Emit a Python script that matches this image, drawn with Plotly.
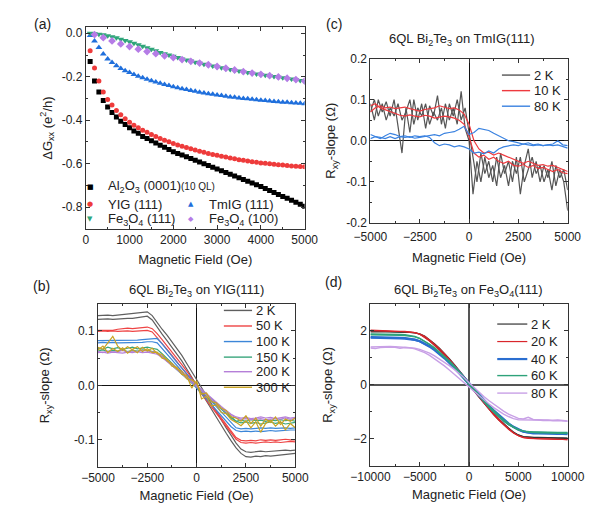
import plotly.graph_objects as go

W, H = 611, 510
def px(x): return x / W
def py(y): return 1 - y / H

FONT = "Liberation Sans, Arial, sans-serif"

# ---------------- Panel (a) data ----------------
field_a = list(range(100, 5001, 100))
field_a_fe100 = list(range(200, 5001, 200))
al2o3 = [-0.13, -0.22, -0.27, -0.31, -0.34, -0.365, -0.385, -0.405, -0.42, -0.435,
         -0.45, -0.46, -0.475, -0.485, -0.495, -0.505, -0.515, -0.525, -0.535, -0.545,
         -0.553, -0.561, -0.569, -0.577, -0.585, -0.593, -0.601, -0.609, -0.617, -0.625,
         -0.633, -0.641, -0.649, -0.657, -0.665, -0.673, -0.681, -0.689, -0.697, -0.705,
         -0.715, -0.724, -0.733, -0.742, -0.751, -0.760, -0.769, -0.778, -0.787, -0.796]
yig = [-0.08, -0.16, -0.22, -0.27, -0.305, -0.33, -0.355, -0.375, -0.393, -0.41,
       -0.423, -0.435, -0.446, -0.456, -0.466, -0.475, -0.484, -0.492, -0.50, -0.507,
       -0.514, -0.52, -0.526, -0.532, -0.538, -0.543, -0.548, -0.553, -0.558, -0.562,
       -0.566, -0.570, -0.574, -0.578, -0.582, -0.585, -0.588, -0.591, -0.594, -0.597,
       -0.599, -0.601, -0.603, -0.605, -0.607, -0.609, -0.611, -0.612, -0.613, -0.614]
tmig = [-0.01, -0.035, -0.065, -0.095, -0.118, -0.135, -0.15, -0.162, -0.172, -0.181,
        -0.19, -0.198, -0.205, -0.212, -0.218, -0.224, -0.23, -0.236, -0.241, -0.246,
        -0.251, -0.255, -0.259, -0.263, -0.267, -0.271, -0.275, -0.278, -0.281, -0.284,
        -0.287, -0.29, -0.293, -0.295, -0.298, -0.30, -0.302, -0.304, -0.306, -0.308,
        -0.31, -0.312, -0.314, -0.315, -0.317, -0.318, -0.32, -0.321, -0.322, -0.324]
fe3o4_111 = [0.0, -0.002, -0.004, -0.007, -0.011, -0.016, -0.021, -0.027, -0.033, -0.039,
             -0.046, -0.053, -0.06, -0.067, -0.074, -0.081, -0.088, -0.094, -0.1, -0.106,
             -0.112, -0.118, -0.123, -0.128, -0.133, -0.138, -0.143, -0.147, -0.151, -0.155,
             -0.159, -0.163, -0.167, -0.171, -0.174, -0.178, -0.181, -0.184, -0.187, -0.19,
             -0.193, -0.196, -0.199, -0.202, -0.205, -0.208, -0.211, -0.214, -0.217, -0.222]
fe3o4_100 = [-0.006, -0.02, -0.035, -0.049, -0.061, -0.073, -0.084, -0.094, -0.104, -0.112,
             -0.121, -0.129, -0.137, -0.145, -0.153, -0.161, -0.169, -0.177, -0.183, -0.189,
             -0.195, -0.201, -0.207, -0.213, -0.22]

# ---------------- Panel (b) data ----------------
field_b = list(range(-5000, 5001, 250))
temps_b = ["2 K", "50 K", "100 K", "150 K", "200 K", "300 K"]
b_2K_a = [0.128, 0.129, 0.129, 0.128, 0.129, 0.13, 0.13, 0.131, 0.132, 0.134, 0.135, 0.128, 0.115, 0.103,
          0.092, 0.08, 0.068, 0.055, 0.04, 0.025, 0.01, -0.005, -0.02, -0.035, -0.05, -0.064, -0.078,
          -0.092, -0.106, -0.117, -0.122, -0.123, -0.122, -0.121, -0.122, -0.121, -0.12, -0.12, -0.119, -0.12, -0.119]
b_2K_b = [0.121, 0.122, 0.122, 0.121, 0.122, 0.122, 0.123, 0.123, 0.124, 0.126, 0.127, 0.12, 0.106, 0.094,
          0.082, 0.07, 0.058, 0.045, 0.03, 0.015, 0.0, -0.015, -0.03, -0.045, -0.06, -0.074, -0.088,
          -0.102, -0.115, -0.125, -0.131, -0.132, -0.13, -0.131, -0.129, -0.13, -0.129, -0.128, -0.128, -0.127, -0.125]
b_50K_a = [0.101, 0.101, 0.102, 0.101, 0.103, 0.104, 0.105, 0.104, 0.105, 0.106, 0.107, 0.104, 0.095, 0.084,
           0.073, 0.062, 0.05, 0.038, 0.026, 0.013, 0.0, -0.012, -0.024, -0.036, -0.048, -0.06, -0.072,
           -0.085, -0.096, -0.101, -0.102, -0.101, -0.102, -0.1, -0.101, -0.1, -0.101, -0.1, -0.099, -0.1, -0.1]
b_50K_b = [0.099, 0.1, 0.099, 0.1, 0.099, 0.1, 0.1, 0.099, 0.1, 0.1, 0.101, 0.098, 0.088, 0.077,
           0.066, 0.055, 0.044, 0.032, 0.02, 0.008, -0.004, -0.016, -0.028, -0.04, -0.052, -0.064, -0.076,
           -0.088, -0.099, -0.105, -0.106, -0.105, -0.106, -0.105, -0.104, -0.105, -0.104, -0.105, -0.104, -0.103, -0.104]
b_100K_a = [0.082, 0.082, 0.083, 0.082, 0.082, 0.083, 0.082, 0.083, 0.083, 0.084, 0.085, 0.086, 0.086, 0.076,
            0.064, 0.053, 0.042, 0.032, 0.021, 0.011, 0.0, -0.01, -0.02, -0.03, -0.04, -0.05, -0.06,
            -0.07, -0.078, -0.08, -0.079, -0.08, -0.079, -0.078, -0.079, -0.078, -0.079, -0.078, -0.078, -0.079, -0.078]
b_100K_b = [0.078, 0.079, 0.078, 0.079, 0.078, 0.078, 0.079, 0.078, 0.079, 0.079, 0.08, 0.08, 0.078, 0.068,
            0.057, 0.046, 0.036, 0.026, 0.015, 0.005, -0.005, -0.015, -0.025, -0.035, -0.045, -0.055, -0.066,
            -0.076, -0.083, -0.085, -0.084, -0.085, -0.084, -0.085, -0.084, -0.083, -0.084, -0.083, -0.083, -0.082, -0.082]
b_150K_a = [0.068, 0.066, 0.07, 0.067, 0.069, 0.066, 0.068, 0.07, 0.067, 0.069, 0.07, 0.068, 0.066, 0.058,
            0.049, 0.04, 0.032, 0.024, 0.016, 0.008, 0.0, -0.008, -0.016, -0.025, -0.033, -0.042, -0.05,
            -0.059, -0.066, -0.069, -0.067, -0.07, -0.068, -0.071, -0.069, -0.067, -0.07, -0.068, -0.071, -0.069, -0.068]
b_150K_b = [0.063, 0.065, 0.062, 0.064, 0.063, 0.065, 0.062, 0.064, 0.063, 0.065, 0.064, 0.062, 0.06, 0.053,
            0.045, 0.037, 0.029, 0.021, 0.013, 0.005, -0.003, -0.011, -0.019, -0.027, -0.035, -0.044, -0.052,
            -0.06, -0.066, -0.064, -0.066, -0.063, -0.065, -0.064, -0.066, -0.064, -0.065, -0.063, -0.065, -0.064, -0.066]
b_200K_a = [0.062, 0.06, 0.063, 0.061, 0.062, 0.064, 0.061, 0.063, 0.062, 0.064, 0.063, 0.061, 0.06, 0.054,
            0.047, 0.04, 0.032, 0.024, 0.016, 0.008, 0.0, -0.008, -0.016, -0.024, -0.031, -0.039, -0.046,
            -0.053, -0.058, -0.06, -0.059, -0.061, -0.06, -0.058, -0.06, -0.059, -0.061, -0.06, -0.058, -0.06, -0.059]
b_200K_b = [0.06, 0.061, 0.059, 0.061, 0.06, 0.059, 0.061, 0.06, 0.062, 0.06, 0.061, 0.059, 0.057, 0.051,
            0.044, 0.037, 0.029, 0.021, 0.013, 0.005, -0.003, -0.011, -0.019, -0.027, -0.034, -0.042, -0.049,
            -0.055, -0.06, -0.062, -0.061, -0.063, -0.062, -0.061, -0.063, -0.062, -0.061, -0.062, -0.06, -0.062, -0.061]
b_300K_a = [0.07, 0.066, 0.078, 0.09, 0.072, 0.064, 0.071, 0.066, 0.06, 0.07, 0.063, 0.068, 0.058, 0.057,
            0.045, 0.04, 0.03, 0.026, 0.012, 0.01, 0.004, -0.016, -0.014, -0.03, -0.032, -0.042, -0.046,
            -0.058, -0.06, -0.066, -0.056, -0.07, -0.06, -0.075, -0.062, -0.068, -0.058, -0.072, -0.062, -0.066, -0.06]
b_300K_b = [0.065, 0.072, 0.06, 0.068, 0.062, 0.069, 0.059, 0.066, 0.071, 0.062, 0.067, 0.06, 0.061, 0.05,
            0.048, 0.035, 0.033, 0.02, 0.018, -0.005, 0.008, -0.025, -0.02, -0.038, -0.036, -0.05, -0.052,
            -0.063, -0.068, -0.074, -0.065, -0.078, -0.067, -0.086, -0.07, -0.064, -0.075, -0.066, -0.082, -0.07, -0.078]
series_b = [(b_2K_a, b_2K_b), (b_50K_a, b_50K_b), (b_100K_a, b_100K_b),
            (b_150K_a, b_150K_b), (b_200K_a, b_200K_b), (b_300K_a, b_300K_b)]
colors_b = ["#5f5f5f", "#ee4444", "#3c86d8", "#3aa67c", "#b57fd8", "#c9a323"]

# ---------------- Panel (c) data ----------------
field_c_2K = list(range(-5000, 5001, 200))
field_c = list(range(-5000, 5001, 250))
temps_c = ["2 K", "10 K", "80 K"]
c_2K_a = [0.09, 0.05, 0.1, 0.07, 0.095, 0.06, 0.1, 0.04, -0.03, 0.08, 0.02, 0.1, 0.05, 0.09, 0.03, 0.085,
          0.06, 0.11, 0.04, 0.09, 0.05, 0.08, 0.04, 0.12, 0.03, 0.0, -0.13, -0.05, -0.1, -0.04, -0.09, -0.06,
          -0.11, -0.03, -0.08, -0.05, -0.1, -0.04, -0.13, -0.06, -0.02, -0.09, -0.05, -0.1, -0.06, -0.09,
          -0.05, -0.11, -0.07, -0.1, -0.17]
c_2K_b = [0.07, 0.1, 0.06, 0.09, 0.05, 0.08, 0.06, 0.09, 0.05, 0.07, 0.1, 0.04, 0.08, 0.06, 0.09, 0.04,
          0.07, 0.05, 0.08, 0.03, 0.09, 0.06, 0.1, 0.05, 0.08, 0.02, -0.04, -0.1, -0.03, -0.08, -0.05, -0.1,
          -0.04, -0.09, -0.06, -0.11, -0.05, -0.08, -0.04, -0.1, -0.07, -0.04, -0.08, -0.06, -0.1, -0.07,
          -0.12, -0.06, -0.09, -0.07, -0.12]
c_10K_a = [0.085, 0.09, 0.08, 0.075, 0.07, 0.066, 0.062, 0.06, 0.063, 0.06, 0.058, 0.062, 0.06, 0.055,
           0.058, 0.06, 0.058, 0.055, 0.05, 0.04, 0.01, -0.03, -0.04, -0.035, -0.045, -0.04, -0.05, -0.055,
           -0.05, -0.06, -0.062, -0.058, -0.065, -0.06, -0.068, -0.065, -0.07, -0.075, -0.07, -0.078, -0.08]
c_10K_b = [0.07, 0.08, 0.085, 0.08, 0.082, 0.078, 0.08, 0.082, 0.078, 0.075, 0.072, 0.076, 0.078, 0.08,
           0.085, 0.082, 0.078, 0.08, 0.075, 0.065, 0.04, 0.0, -0.02, -0.03, -0.028, -0.035, -0.03, -0.035,
           -0.04, -0.045, -0.05, -0.055, -0.05, -0.055, -0.06, -0.058, -0.062, -0.06, -0.065, -0.07, -0.075]
c_80K_a = [0.015, 0.01, 0.005, 0.012, 0.018, 0.015, 0.01, 0.012, 0.008, 0.012, 0.01, 0.012, 0.008, -0.005,
           -0.012, -0.008, -0.01, -0.015, -0.012, -0.015, -0.02, -0.03, -0.028, -0.032, -0.025, -0.03, -0.02,
           -0.015, -0.012, -0.01, -0.012, -0.008, -0.01, -0.012, -0.01, -0.012, -0.01, -0.008, 0.0, -0.01, -0.012]
c_80K_b = [0.005, 0.01, 0.008, 0.005, 0.01, 0.005, 0.01, 0.008, 0.01, 0.006, 0.008, 0.01, 0.012, 0.015,
           0.012, 0.018, 0.02, 0.022, 0.028, 0.035, 0.015, 0.02, 0.03, 0.028, 0.025, 0.018, 0.012, 0.005,
           0.0, -0.002, -0.005, -0.008, -0.005, -0.01, -0.008, -0.012, -0.01, -0.012, -0.01, -0.015, -0.018]
colors_c = ["#555555", "#ee3a3f", "#3a82e0"]

# ---------------- Panel (d) data ----------------
field_d = list(range(-10000, 10001, 500))
temps_d = ["2 K", "20 K", "40 K", "60 K", "80 K"]
d_2K_a = [1.98, 1.99, 1.98, 1.98, 1.97, 1.97, 1.97, 1.96, 1.95, 1.93, 1.87, 1.77, 1.63, 1.47, 1.30, 1.12,
          0.92, 0.70, 0.47, 0.24, 0.01, -0.22, -0.45, -0.68, -0.90, -1.10, -1.29, -1.46, -1.62, -1.76,
          -1.86, -1.92, -1.94, -1.95, -1.96, -1.96, -1.97, -1.97, -1.97, -1.98, -1.98]
d_2K_b = [1.96, 1.97, 1.96, 1.96, 1.96, 1.95, 1.95, 1.95, 1.94, 1.92, 1.88, 1.80, 1.67, 1.52, 1.35, 1.17,
          0.97, 0.76, 0.53, 0.30, 0.07, -0.16, -0.39, -0.62, -0.84, -1.05, -1.25, -1.43, -1.59, -1.74,
          -1.85, -1.91, -1.93, -1.94, -1.94, -1.95, -1.95, -1.96, -1.96, -1.96, -1.97]
d_20K_a = [2.02, 2.01, 2.0, 2.0, 1.99, 1.99, 1.98, 1.98, 1.96, 1.93, 1.87, 1.76, 1.62, 1.46, 1.29, 1.10,
           0.90, 0.69, 0.46, 0.23, 0.0, -0.23, -0.46, -0.69, -0.91, -1.11, -1.30, -1.48, -1.64, -1.78,
           -1.88, -1.94, -1.97, -1.98, -1.99, -1.99, -2.0, -2.0, -2.01, -2.01, -2.02]
d_20K_b = [2.0, 1.99, 1.99, 1.98, 1.98, 1.97, 1.97, 1.96, 1.95, 1.93, 1.88, 1.79, 1.66, 1.51, 1.34, 1.15,
           0.95, 0.74, 0.52, 0.29, 0.05, -0.18, -0.41, -0.64, -0.86, -1.07, -1.27, -1.45, -1.62, -1.77,
           -1.88, -1.95, -1.98, -1.99, -2.0, -2.0, -2.01, -2.01, -2.02, -2.02, -2.03]
d_40K_a = [1.76, 1.76, 1.76, 1.75, 1.75, 1.75, 1.74, 1.73, 1.71, 1.67, 1.61, 1.52, 1.41, 1.28, 1.14, 0.98,
           0.81, 0.63, 0.43, 0.22, 0.01, -0.20, -0.41, -0.61, -0.80, -0.98, -1.15, -1.31, -1.45, -1.57,
           -1.66, -1.73, -1.77, -1.79, -1.79, -1.80, -1.80, -1.80, -1.81, -1.81, -1.82]
d_40K_b = [1.74, 1.74, 1.73, 1.73, 1.73, 1.72, 1.72, 1.71, 1.69, 1.66, 1.61, 1.53, 1.43, 1.31, 1.17, 1.02,
           0.85, 0.67, 0.48, 0.27, 0.06, -0.15, -0.36, -0.56, -0.75, -0.94, -1.11, -1.27, -1.42, -1.55,
           -1.65, -1.72, -1.76, -1.77, -1.77, -1.78, -1.78, -1.78, -1.78, -1.79, -1.79]
d_60K_a = [1.88, 1.88, 1.87, 1.87, 1.87, 1.86, 1.86, 1.85, 1.83, 1.79, 1.72, 1.62, 1.49, 1.35, 1.19, 1.02,
           0.84, 0.65, 0.44, 0.22, 0.0, -0.22, -0.43, -0.63, -0.82, -1.0, -1.17, -1.33, -1.47, -1.58,
           -1.66, -1.71, -1.73, -1.74, -1.74, -1.75, -1.75, -1.75, -1.76, -1.76, -1.76]
d_60K_b = [1.85, 1.85, 1.84, 1.84, 1.84, 1.83, 1.83, 1.82, 1.80, 1.77, 1.71, 1.62, 1.50, 1.37, 1.22, 1.05,
           0.88, 0.69, 0.49, 0.27, 0.05, -0.17, -0.38, -0.58, -0.77, -0.96, -1.13, -1.29, -1.44, -1.56,
           -1.65, -1.71, -1.74, -1.76, -1.77, -1.77, -1.78, -1.78, -1.79, -1.79, -1.80]
d_80K_a = [1.36, 1.34, 1.38, 1.40, 1.40, 1.39, 1.35, 1.38, 1.37, 1.35, 1.31, 1.25, 1.17, 1.07, 0.96, 0.84,
           0.71, 0.57, 0.42, 0.26, 0.08, -0.10, -0.27, -0.43, -0.58, -0.72, -0.85, -0.97, -1.08, -1.17,
           -1.24, -1.26, -1.20, -1.28, -1.31, -1.32, -1.31, -1.33, -1.32, -1.33, -1.35]
d_80K_b = [1.40, 1.41, 1.40, 1.41, 1.42, 1.41, 1.40, 1.39, 1.37, 1.33, 1.27, 1.19, 1.09, 0.97, 0.84, 0.70,
           0.55, 0.40, 0.24, 0.08, -0.08, -0.24, -0.40, -0.56, -0.70, -0.84, -0.97, -1.08, -1.17, -1.25,
           -1.29, -1.30, -1.31, -1.30, -1.29, -1.30, -1.32, -1.31, -1.30, -1.31, -1.33]
series_d = [(d_2K_a, d_2K_b), (d_20K_a, d_20K_b), (d_40K_a, d_40K_b), (d_60K_a, d_60K_b), (d_80K_a, d_80K_b)]
colors_d = ["#333333", "#d9262b", "#2a6ed0", "#2ea27a", "#c8a0e6"]
widths_d = [1.2, 1.2, 2.2, 1.4, 1.4]

fig = go.Figure()

# Panel (a) traces
a_series = [
    ("Al<sub>2</sub>O<sub>3</sub> (0001)<span style='font-size:10px'>(10 QL)</span>", field_a, al2o3, "square", "■", "#000000", 5),
    ("YIG (111)", field_a, yig, "circle", "●", "#ee3b3b", 5),
    ("TmIG (111)", field_a, tmig, "triangle-up", "▲", "#1f6fdc", 6),
    ("Fe<sub>3</sub>O<sub>4</sub> (111)", field_a, fe3o4_111, "triangle-down", "▼", "#2fa57a", 6),
    ("Fe<sub>3</sub>O<sub>4</sub> (100)", field_a_fe100, fe3o4_100, "diamond", "◆", "#b57ce6", 6),
]
for name, xs, ys, sym, glyph, col, sz in a_series:
    fig.add_trace(go.Scatter(x=xs, y=ys, mode="markers", name=name,
                             marker=dict(symbol=sym, color=col, size=sz, line=dict(width=0)),
                             xaxis="x", yaxis="y", showlegend=False))

# Panel (b)
for (ya, yb), col in zip(series_b, colors_b):
    for ys in (ya, yb):
        fig.add_trace(go.Scatter(x=field_b, y=ys, mode="lines", line=dict(color=col, width=1.2),
                                 xaxis="x3", yaxis="y3", showlegend=False))
# Panel (c)
for (xs, ya, yb), col in zip([(field_c_2K, c_2K_a, c_2K_b), (field_c, c_10K_a, c_10K_b), (field_c, c_80K_a, c_80K_b)], colors_c):
    for ys in (ya, yb):
        fig.add_trace(go.Scatter(x=xs, y=ys, mode="lines", line=dict(color=col, width=1.2),
                                 xaxis="x2", yaxis="y2", showlegend=False))
# Panel (d)
for (ya, yb), col, lw in zip(series_d, colors_d, widths_d):
    for ys in (ya, yb):
        fig.add_trace(go.Scatter(x=field_d, y=ys, mode="lines", line=dict(color=col, width=lw),
                                 xaxis="x4", yaxis="y4", showlegend=False))

def axis(domain, rng, dtick, minor, title, zeroline=False, anchor=None, tickvals=None, ticktext=None,
         standoff=2, labelgap=0):
    d = dict(domain=domain, range=rng, dtick=dtick, showline=True, mirror="ticks",
             linecolor="#333", linewidth=1, ticks="inside", ticklen=4, tickcolor="#333",
             minor=dict(ticks="inside", ticklen=2, tickcolor="#333", dtick=minor),
             showgrid=False, zeroline=zeroline, zerolinecolor="#111", zerolinewidth=1,
             tickfont=dict(size=12, family=FONT, color="#222"), tickformat="d",
             ticklabelstandoff=labelgap,
             title=dict(text=title, font=dict(size=13, family=FONT, color="#222"), standoff=standoff),
             anchor=anchor)
    if tickvals is not None:
        d["tickvals"] = tickvals
        d["ticktext"] = ticktext
        d.pop("dtick")
        d.pop("tickformat")
    return d

fig.update_layout(
    width=W, height=H, margin=dict(l=0, r=0, t=0, b=0),
    paper_bgcolor="white", plot_bgcolor="white", showlegend=False,
    font=dict(family=FONT, size=12, color="#222"),
    xaxis=axis([px(70), px(303)], [0, 5000], 1000, 500, "Magnetic Field (Oe)", anchor="y", standoff=8),
    yaxis=axis([py(228), py(21)], [-0.9, 0.027], 0.2, 0.1, "ΔG<sub>xx</sub> (e<sup>2</sup>/h)", anchor="x",
               tickvals=[0, -0.2, -0.4, -0.6, -0.8], ticktext=["0.0", "-0.2", "-0.4", "-0.6", "-0.8"], standoff=6),
    xaxis2=axis([px(373), px(583)], [-5000, 5000], 2500, 1250, "Magnetic Field (Oe)", zeroline=True, anchor="y2",
                standoff=9, labelgap=3),
    yaxis2=axis([py(222), py(53)], [-0.2, 0.2], 0.1, 0.05, "R<sub>xy</sub>-slope (Ω)", zeroline=True, anchor="x2",
                tickvals=[-0.2, -0.1, 0, 0.1, 0.2], ticktext=["-0.2", "-0.1", "0.0", "0.1", "0.2"], standoff=7),
    xaxis3=axis([px(83), px(293)], [-5000, 5000], 2500, 1250, "Magnetic Field (Oe)", zeroline=True, anchor="y3",
                standoff=6),
    yaxis3=axis([py(473), py(305)], [-0.15, 0.15], 0.1, 0.05, "R<sub>xy</sub>-slope (Ω)", zeroline=True, anchor="x3",
                tickvals=[-0.1, 0, 0.1], ticktext=["-0.1", "0.0", "0.1"], standoff=21),
    xaxis4=axis([px(373), px(583)], [-10000, 10000], 5000, 2500, "Magnetic Field (Oe)", zeroline=True, anchor="y4",
                standoff=6),
    yaxis4=axis([py(472), py(305)], [-3, 3], 2, 1, "R<sub>xy</sub>-slope (Ω)", zeroline=True, anchor="x4",
                standoff=17),
)
fig.update_layout(xaxis4_zerolinecolor="#555", yaxis4_zerolinecolor="#555", xaxis4_zerolinewidth=1.5, yaxis4_zerolinewidth=1.5)

leg_font = dict(size=13, family=FONT, color="#222")
shapes, annos = [], []

# Key for panel (a): coloured symbol glyphs and labels, two columns as in the reference
key_a_pos = [(75, 185), (75, 203), (182, 203), (75, 218), (182, 218)]
for (name, xs, ys, sym, glyph, col, sz), (kx, ky) in zip(a_series, key_a_pos):
    annos.append(dict(text=glyph, xref="paper", yref="paper", x=px(kx), y=py(ky), showarrow=False,
                      xanchor="center", yanchor="middle",
                      font=dict(size=7, family="DejaVu Sans", color=col)))
    annos.append(dict(text=name, xref="paper", yref="paper", x=px(kx + 17), y=py(ky), showarrow=False,
                      xanchor="left", yanchor="middle", font=leg_font))

# Manual line legends for panels (b), (c), (d)
def line_legend(labels, colors, widths, x0, x1, ys):
    for lab, col, lw, yy in zip(labels, colors, widths, ys):
        shapes.append(dict(type="line", xref="paper", yref="paper", x0=px(x0), x1=px(x1),
                           y0=py(yy), y1=py(yy), line=dict(color=col, width=lw)))
        annos.append(dict(text=lab, xref="paper", yref="paper", x=px(x1 + 2), y=py(yy),
                          xanchor="left", yanchor="middle", showarrow=False, font=leg_font))
line_legend(temps_b, colors_b, [1.4] * 6, 217, 247, [312, 328, 344, 360, 375, 391])
line_legend(temps_c, colors_c, [1.4] * 3, 513, 543, [70, 86, 102])
line_legend(temps_d, colors_d, widths_d, 508, 540, [326, 344, 362, 379, 397])

# Panel labels and titles
for lab, x, y in [("(a)", 24, 17), ("(c)", 334, 17), ("(b)", 23, 287), ("(d)", 334, 283)]:
    annos.append(dict(text=lab, xref="paper", yref="paper", x=px(x), y=py(y), showarrow=False,
                      xanchor="center", yanchor="middle", font=dict(size=14, family=FONT, color="#222")))
for t, x, y in [("6QL Bi<sub>2</sub>Te<sub>3</sub> on TmIG(111)", 470, 33),
                ("6QL Bi<sub>2</sub>Te<sub>3</sub> on YIG(111)", 188, 292),
                ("6QL Bi<sub>2</sub>Te<sub>3</sub> on Fe<sub>3</sub>O<sub>4</sub>(111)", 477, 292)]:
    annos.append(dict(text=t, xref="paper", yref="paper", x=px(x), y=py(y), showarrow=False,
                      xanchor="center", yanchor="middle", font=dict(size=13, family=FONT, color="#222")))

fig.update_layout(shapes=shapes, annotations=annos)
fig.write_html("out.html")
